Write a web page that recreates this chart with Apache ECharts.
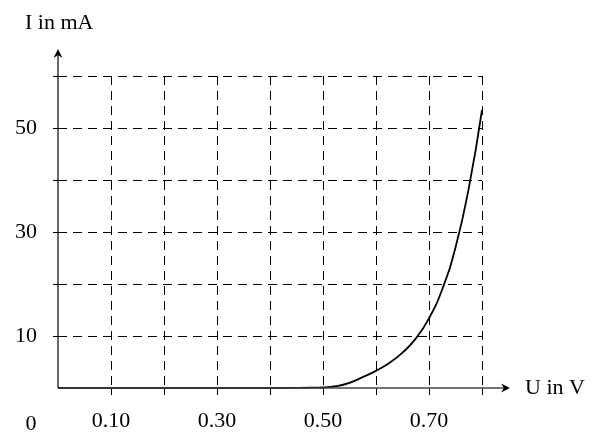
<!DOCTYPE html>
<html>
    <head>
        <meta charset="UTF-8" />
        <script src="https://cdn.jsdelivr.net/npm/echarts@6/dist/echarts.min.js"></script>
        <style>
            html, body { margin: 0; padding: 0; background: #fff; }
        </style>
    </head>
    <body>
        <div id="container" style="width: 593px; height: 432px;"></div>
        <script>
            // diode curve, U in V / I in mA
            var voltage = [0, 0.1, 0.2, 0.3, 0.4, 0.475, 0.5, 0.525, 0.55, 0.575, 0.6, 0.625, 0.65, 0.675, 0.7, 0.725, 0.75, 0.775, 0.8];
            var current = [0, 0, 0, 0, 0, 0.05, 0.1, 0.35, 1.0, 2.1, 3.3, 4.8, 6.8, 9.5, 13.4, 19.0, 27.0, 38.4, 53.5];
            var xTicks = [0.1, 0.2, 0.3, 0.4, 0.5, 0.6, 0.7, 0.8];
            var xLabels = [0.1, 0.3, 0.5, 0.7];
            var yTicks = [10, 20, 30, 40, 50, 60];
            var yLabels = [10, 30, 50];

            var font = '"Liberation Serif", "DejaVu Serif", serif';
            var dash = { color: '#000', width: 1, type: [9, 6] };

            var points = [];
            for (var i = 0; i < voltage.length; i++) {
                points.push([voltage[i], current[i]]);
            }

            var dom = document.getElementById('container');
            var chart = echarts.init(dom, null, { renderer: 'canvas' });

            chart.setOption({
                animation: false,
                backgroundColor: '#fff',
                grid: { left: 58, right: 111, top: 76, bottom: 39, containLabel: false },
                xAxis: {
                    type: 'value', min: 0, max: 0.8, interval: 0.1,
                    axisLine: { show: false },
                    axisTick: { show: true, length: 7, customValues: xTicks, lineStyle: { color: '#000' } },
                    axisLabel: {
                        customValues: xLabels, margin: 22,
                        fontFamily: font, fontSize: 22, color: '#000',
                        formatter: function (v) { return v.toFixed(2); }
                    },
                    splitLine: { show: true, lineStyle: dash }
                },
                yAxis: {
                    type: 'value', min: 0, max: 60, interval: 10,
                    axisLine: { show: false },
                    axisTick: { show: true, length: 5, customValues: yTicks, lineStyle: { color: '#000' } },
                    axisLabel: {
                        customValues: yLabels, margin: 21,
                        fontFamily: font, fontSize: 22, color: '#000'
                    },
                    splitLine: { show: true, lineStyle: dash }
                },
                series: [{
                    type: 'line',
                    data: points,
                    smooth: 0.5,
                    symbol: 'none',
                    lineStyle: { color: '#000', width: 1.8 },
                    z: 5
                }]
            });

            // axes with arrows, origin label and axis titles
            var o = chart.convertToPixel({ gridIndex: 0 }, [0, 0]);
            var ox = o[0], oy = o[1];
            var xEnd = 510, yEnd = 49;

            chart.setOption({
                graphic: [
                    { type: 'line', shape: { x1: ox, y1: oy, x2: xEnd - 3, y2: oy }, style: { stroke: '#444', lineWidth: 1.5 }, z: 10 },
                    { type: 'polygon', shape: { points: [[xEnd, oy], [xEnd - 9, oy - 4.5], [xEnd - 6, oy], [xEnd - 9, oy + 4.5]] }, style: { fill: '#000' }, z: 10 },
                    { type: 'line', shape: { x1: ox, y1: oy, x2: ox, y2: yEnd + 3 }, style: { stroke: '#000', lineWidth: 1.2 }, z: 10 },
                    { type: 'polygon', shape: { points: [[ox, yEnd], [ox - 4.5, yEnd + 9], [ox, yEnd + 6], [ox + 4.5, yEnd + 9]] }, style: { fill: '#000' }, z: 10 },
                    { type: 'text', x: 31, y: 424, style: { text: '0', font: '22px ' + font, fill: '#000', align: 'center', verticalAlign: 'middle' }, z: 10 },
                    { type: 'text', x: 525, y: oy, style: { text: 'U in V', font: '22px ' + font, fill: '#000', align: 'left', verticalAlign: 'middle' }, z: 10 },
                    { type: 'text', x: 25, y: 23, style: { text: 'I in mA', font: '22px ' + font, fill: '#000', align: 'left', verticalAlign: 'middle' }, z: 10 }
                ]
            });
        </script>
    </body>
</html>
